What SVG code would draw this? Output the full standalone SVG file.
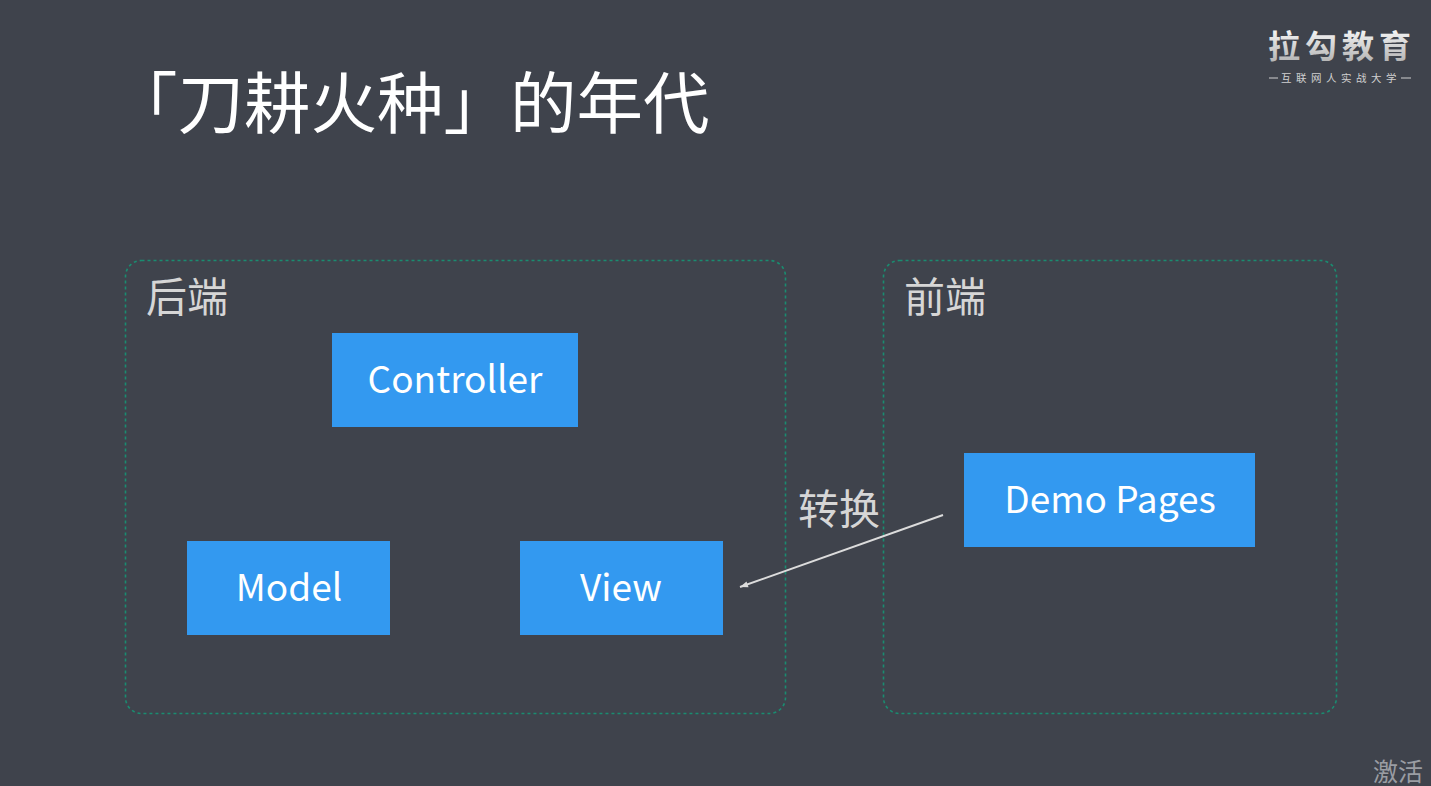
<svg xmlns="http://www.w3.org/2000/svg" width="1431" height="786" viewBox="0 0 1431 786">
<defs><marker id="arr" markerUnits="userSpaceOnUse" markerWidth="10" markerHeight="8" refX="9" refY="4" orient="auto"><path d="M1 1L9 4L1 7Z" fill="#dcdcdc"/></marker>
<linearGradient id="lg" gradientUnits="userSpaceOnUse" x1="0" y1="30" x2="0" y2="62"><stop offset="0" stop-color="#f4f4f4"/><stop offset="1" stop-color="#b4b4b4"/></linearGradient></defs>
<style>
text{font-family:"Noto Sans CJK SC","Noto Sans",sans-serif}
.b{fill:#3399f0}.t{fill:#fff;font-size:37px;text-anchor:middle}
.g{fill:none;stroke:#1a8c70;stroke-width:1.600;stroke-dasharray:3 3}
.l{fill:#d6d6d6;font-size:41px}
</style>
<rect width="1431" height="786" fill="#3f434c"/>
<text x="111" y="128" fill="#fff" font-size="66.500">「刀耕火种」的年代</text>
<g id="backend"><rect class="g" x="125.500" y="260.500" width="660" height="453" rx="16"/><text class="l" x="146" y="312">后端</text></g>
<g id="frontend"><rect class="g" x="883.500" y="260.500" width="453" height="453" rx="16"/><text class="l" x="904" y="312">前端</text></g>
<g id="controller"><rect class="b" x="332" y="333" width="246" height="94"/><text class="t" x="455" y="392.500">Controller</text></g>
<g id="model"><rect class="b" x="187" y="541" width="203" height="94"/><text class="t" x="289" y="600.500">Model</text></g>
<g id="view"><rect class="b" x="520" y="541" width="203" height="94"/><text class="t" x="621" y="600.500">View</text></g>
<g id="demo"><rect class="b" x="964" y="453" width="291" height="94"/><text class="t" x="1110" y="512.500">Demo Pages</text></g>
<g id="connectors"><line x1="943" y1="515" x2="740" y2="587" stroke="#dcdcdc" stroke-width="2" marker-end="url(#arr)"/></g>
<text class="l" x="798" y="524">转换</text>
<g id="logo"><text x="1342" y="58" fill="url(#lg)" font-size="32" font-weight="700" text-anchor="middle" letter-spacing="5">拉勾教育</text><text x="1341" y="82" fill="#d0d0d0" font-size="10.500" text-anchor="middle" letter-spacing="4.500">互联网人实战大学</text><line x1="1269" y1="78" x2="1278" y2="78" stroke="#d0d0d0"/><line x1="1401" y1="78" x2="1411" y2="78" stroke="#d0d0d0"/></g>
<text x="1373" y="781" fill="#9a9da3" font-size="25">激活</text>
</svg>
